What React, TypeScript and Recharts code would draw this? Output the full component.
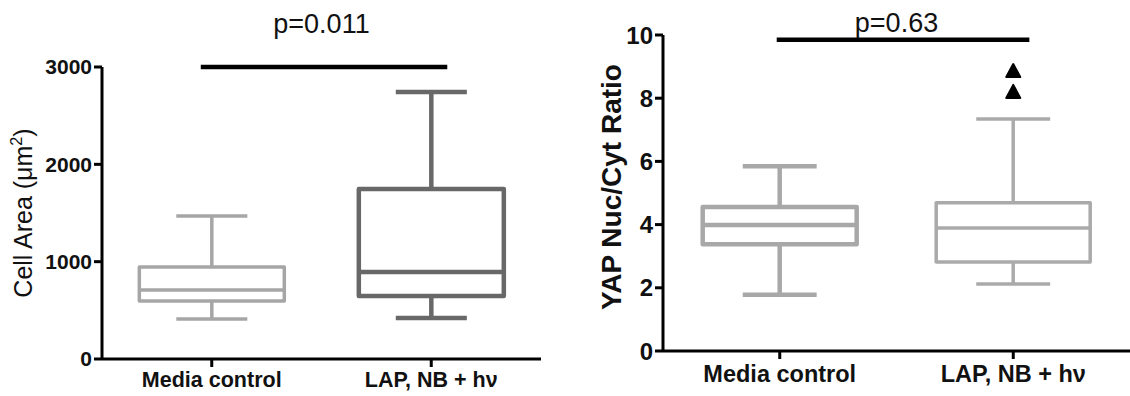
import { ComposedChart, Bar, XAxis, YAxis, Scatter, ReferenceLine, Label } from "recharts"

const categories = ["Media control", "LAP, NB + h\u03bd"]

// Cell area (µm²) box stats
const areaMin = [411, 421]
const areaQ1 = [596, 647]
const areaMedian = [710, 894]
const areaQ3 = [945, 1747]
const areaMax = [1470, 2744]
const areaTicks = [0, 1000, 2000, 3000]
const areaP = "p=0.011"
const areaSigY = 3000

// YAP nuc/cyt ratio box stats
const ratioMin = [1.78, 2.12]
const ratioQ1 = [3.38, 2.82]
const ratioMedian = [3.99, 3.89]
const ratioQ3 = [4.56, 4.69]
const ratioMax = [5.85, 7.34]
const ratioOutliers = [[], [8.2, 8.86]]
const ratioTicks = [0, 2, 4, 6, 8, 10]
const ratioP = "p=0.63"
const ratioSigY = 9.85

const buildRows = (
  mins: number[],
  q1s: number[],
  meds: number[],
  q3s: number[],
  maxs: number[],
  outs: number[][] = []
) =>
  categories.map((name, i) => ({
    name,
    min: mins[i],
    q1: q1s[i],
    median: meds[i],
    q3: q3s[i],
    max: maxs[i],
    span: maxs[i] - mins[i],
    out1: outs[i]?.[0] ?? null,
    out2: outs[i]?.[1] ?? null,
  }))

const areaRows = buildRows(areaMin, areaQ1, areaMedian, areaQ3, areaMax)
const ratioRows = buildRows(ratioMin, ratioQ1, ratioMedian, ratioQ3, ratioMax, ratioOutliers)

const FONT = "'Liberation Sans', Arial, sans-serif"

// box + whiskers drawn inside the stacked (min .. max) bar
const boxShape = (strokes: string[], widths: number[], capRatio: number) => (props: any) => {
  const { x, y, width, height, payload } = props
  if (!payload) return null
  const i = categories.indexOf(payload.name)
  const { min, q1, median, q3, max } = payload
  const top = Math.min(y, y + height)
  const h = Math.abs(height)
  const toY = (v: number) => top + ((max - v) / (max - min)) * h
  const cx = x + width / 2
  const capHalf = (width * capRatio) / 2
  return (
    <g stroke={strokes[i]} strokeWidth={widths[i]} fill="none" strokeLinejoin="round">
      <line x1={cx} y1={toY(max)} x2={cx} y2={toY(q3)} />
      <line x1={cx} y1={toY(q1)} x2={cx} y2={toY(min)} />
      <line x1={cx - capHalf} y1={toY(max)} x2={cx + capHalf} y2={toY(max)} />
      <line x1={cx - capHalf} y1={toY(min)} x2={cx + capHalf} y2={toY(min)} />
      <rect x={x} y={toY(q3)} width={width} height={toY(q1) - toY(q3)} fill="#fff" />
      <line x1={x} y1={toY(median)} x2={x + width} y2={toY(median)} />
    </g>
  )
}

const triangle = (props: any) => {
  const { cx, cy } = props
  if (cx == null || cy == null || isNaN(cy)) return <g />
  return (
    <path
      d={`M${cx},${cy - 7} L${cx + 7},${cy + 6} L${cx - 7},${cy + 6} Z`}
      fill="#000"
      stroke="#000"
      strokeWidth={2}
      strokeLinejoin="round"
    />
  )
}

const sigLine = (extL: number, extR: number) => (p: any) => {
  const span = p.x2 - p.x1
  return <line x1={p.x1 - span * extL} y1={p.y1} x2={p.x2 + span * extR} y2={p.y2} stroke="#000" strokeWidth={4.5} />
}

const yLabel = (offsetX: number, shiftY: number, bold: boolean, size: number, text: string, sup?: string) => (p: any) => {
  const vb = p.viewBox
  const lx = vb.x + offsetX
  const ly = vb.y + vb.height / 2 + shiftY
  return (
    <text
      x={lx}
      y={ly}
      transform={`rotate(-90 ${lx} ${ly})`}
      textAnchor="middle"
      fontFamily={FONT}
      fontSize={size}
      fontWeight={bold ? "bold" : "normal"}
      fill="#111"
    >
      {text}
      {sup && (
        <>
          <tspan dy={-10} fontSize={size * 0.65}>{sup}</tspan>
          <tspan dy={10}>)</tspan>
        </>
      )}
    </text>
  )
}

export default function App() {
  return (
    <div style={{ position: "absolute", left: 0, top: 0, width: 1130, height: 396, background: "#fff", display: "flex", fontFamily: FONT }}>
      <ComposedChart
        width={560}
        height={396}
        data={areaRows}
        margin={{ top: 67, right: 19, bottom: 7, left: 0 }}
        barCategoryGap="17%"
      >
        <XAxis
          dataKey="name"
          height={30}
          axisLine={{ stroke: "#000", strokeWidth: 3 }}
          tickLine={{ stroke: "#000", strokeWidth: 3 }}
          tickSize={8}
          tickMargin={5}
          tick={{ fill: "#111", fontSize: 21.5, fontWeight: "bold", fontFamily: FONT }}
        />
        <YAxis
          width={102}
          domain={[0, 3000]}
          ticks={areaTicks}
          interval={0}
          axisLine={{ stroke: "#000", strokeWidth: 3 }}
          tickLine={{ stroke: "#000", strokeWidth: 3 }}
          tickSize={8}
          tickMargin={2}
          tick={{ fill: "#111", fontSize: 21, fontWeight: "bold", fontFamily: FONT }}
        >
          <Label content={yLabel(32, 0, false, 25, "Cell Area (\u03bcm", "2")} />
        </YAxis>
        <Bar dataKey="min" stackId="box" fill="transparent" isAnimationActive={false} />
        <Bar
          dataKey="span"
          stackId="box"
          fill="transparent"
          shape={boxShape(["#a6a6a6", "#686868"], [3.5, 4.5], 0.49)}
          isAnimationActive={false}
        />
        <ReferenceLine
          segment={[{ x: categories[0], y: areaSigY }, { x: categories[1], y: areaSigY }]}
          shape={sigLine(0.05, 0.073)}
          ifOverflow="visible"
          label={{ value: areaP, position: "top", offset: 34, fontSize: 27, fill: "#111", fontFamily: FONT }}
        />
      </ComposedChart>

      <ComposedChart
        width={570}
        height={396}
        data={ratioRows}
        margin={{ top: 35, right: 0, bottom: 15, left: 0 }}
        barCategoryGap="17%"
      >
        <XAxis
          dataKey="name"
          height={30}
          axisLine={{ stroke: "#000", strokeWidth: 3 }}
          tickLine={{ stroke: "#000", strokeWidth: 3 }}
          tickSize={8}
          tickMargin={6}
          tick={{ fill: "#111", fontSize: 23.5, fontWeight: "bold", fontFamily: FONT }}
        />
        <YAxis
          width={103}
          domain={[0, 10]}
          ticks={ratioTicks}
          interval={0}
          axisLine={{ stroke: "#000", strokeWidth: 3 }}
          tickLine={{ stroke: "#000", strokeWidth: 3 }}
          tickSize={8}
          tickMargin={2}
          tick={{ fill: "#111", fontSize: 24, fontWeight: "bold", fontFamily: FONT }}
        >
          <Label content={yLabel(61, -6, true, 28, "YAP Nuc/Cyt Ratio")} />
        </YAxis>
        <Bar dataKey="min" stackId="box" fill="transparent" isAnimationActive={false} />
        <Bar
          dataKey="span"
          stackId="box"
          fill="transparent"
          shape={boxShape(["#a8a8a8", "#aaaaaa"], [4.5, 3.5], 0.48)}
          isAnimationActive={false}
        />
        <Scatter dataKey="out1" shape={triangle} isAnimationActive={false} />
        <Scatter dataKey="out2" shape={triangle} isAnimationActive={false} />
        <ReferenceLine
          segment={[{ x: categories[0], y: ratioSigY }, { x: categories[1], y: ratioSigY }]}
          shape={sigLine(0.013, 0.069)}
          ifOverflow="visible"
          label={{ value: ratioP, position: "top", offset: 8, fontSize: 27, fill: "#111", fontFamily: FONT }}
        />
      </ComposedChart>
    </div>
  )
}
